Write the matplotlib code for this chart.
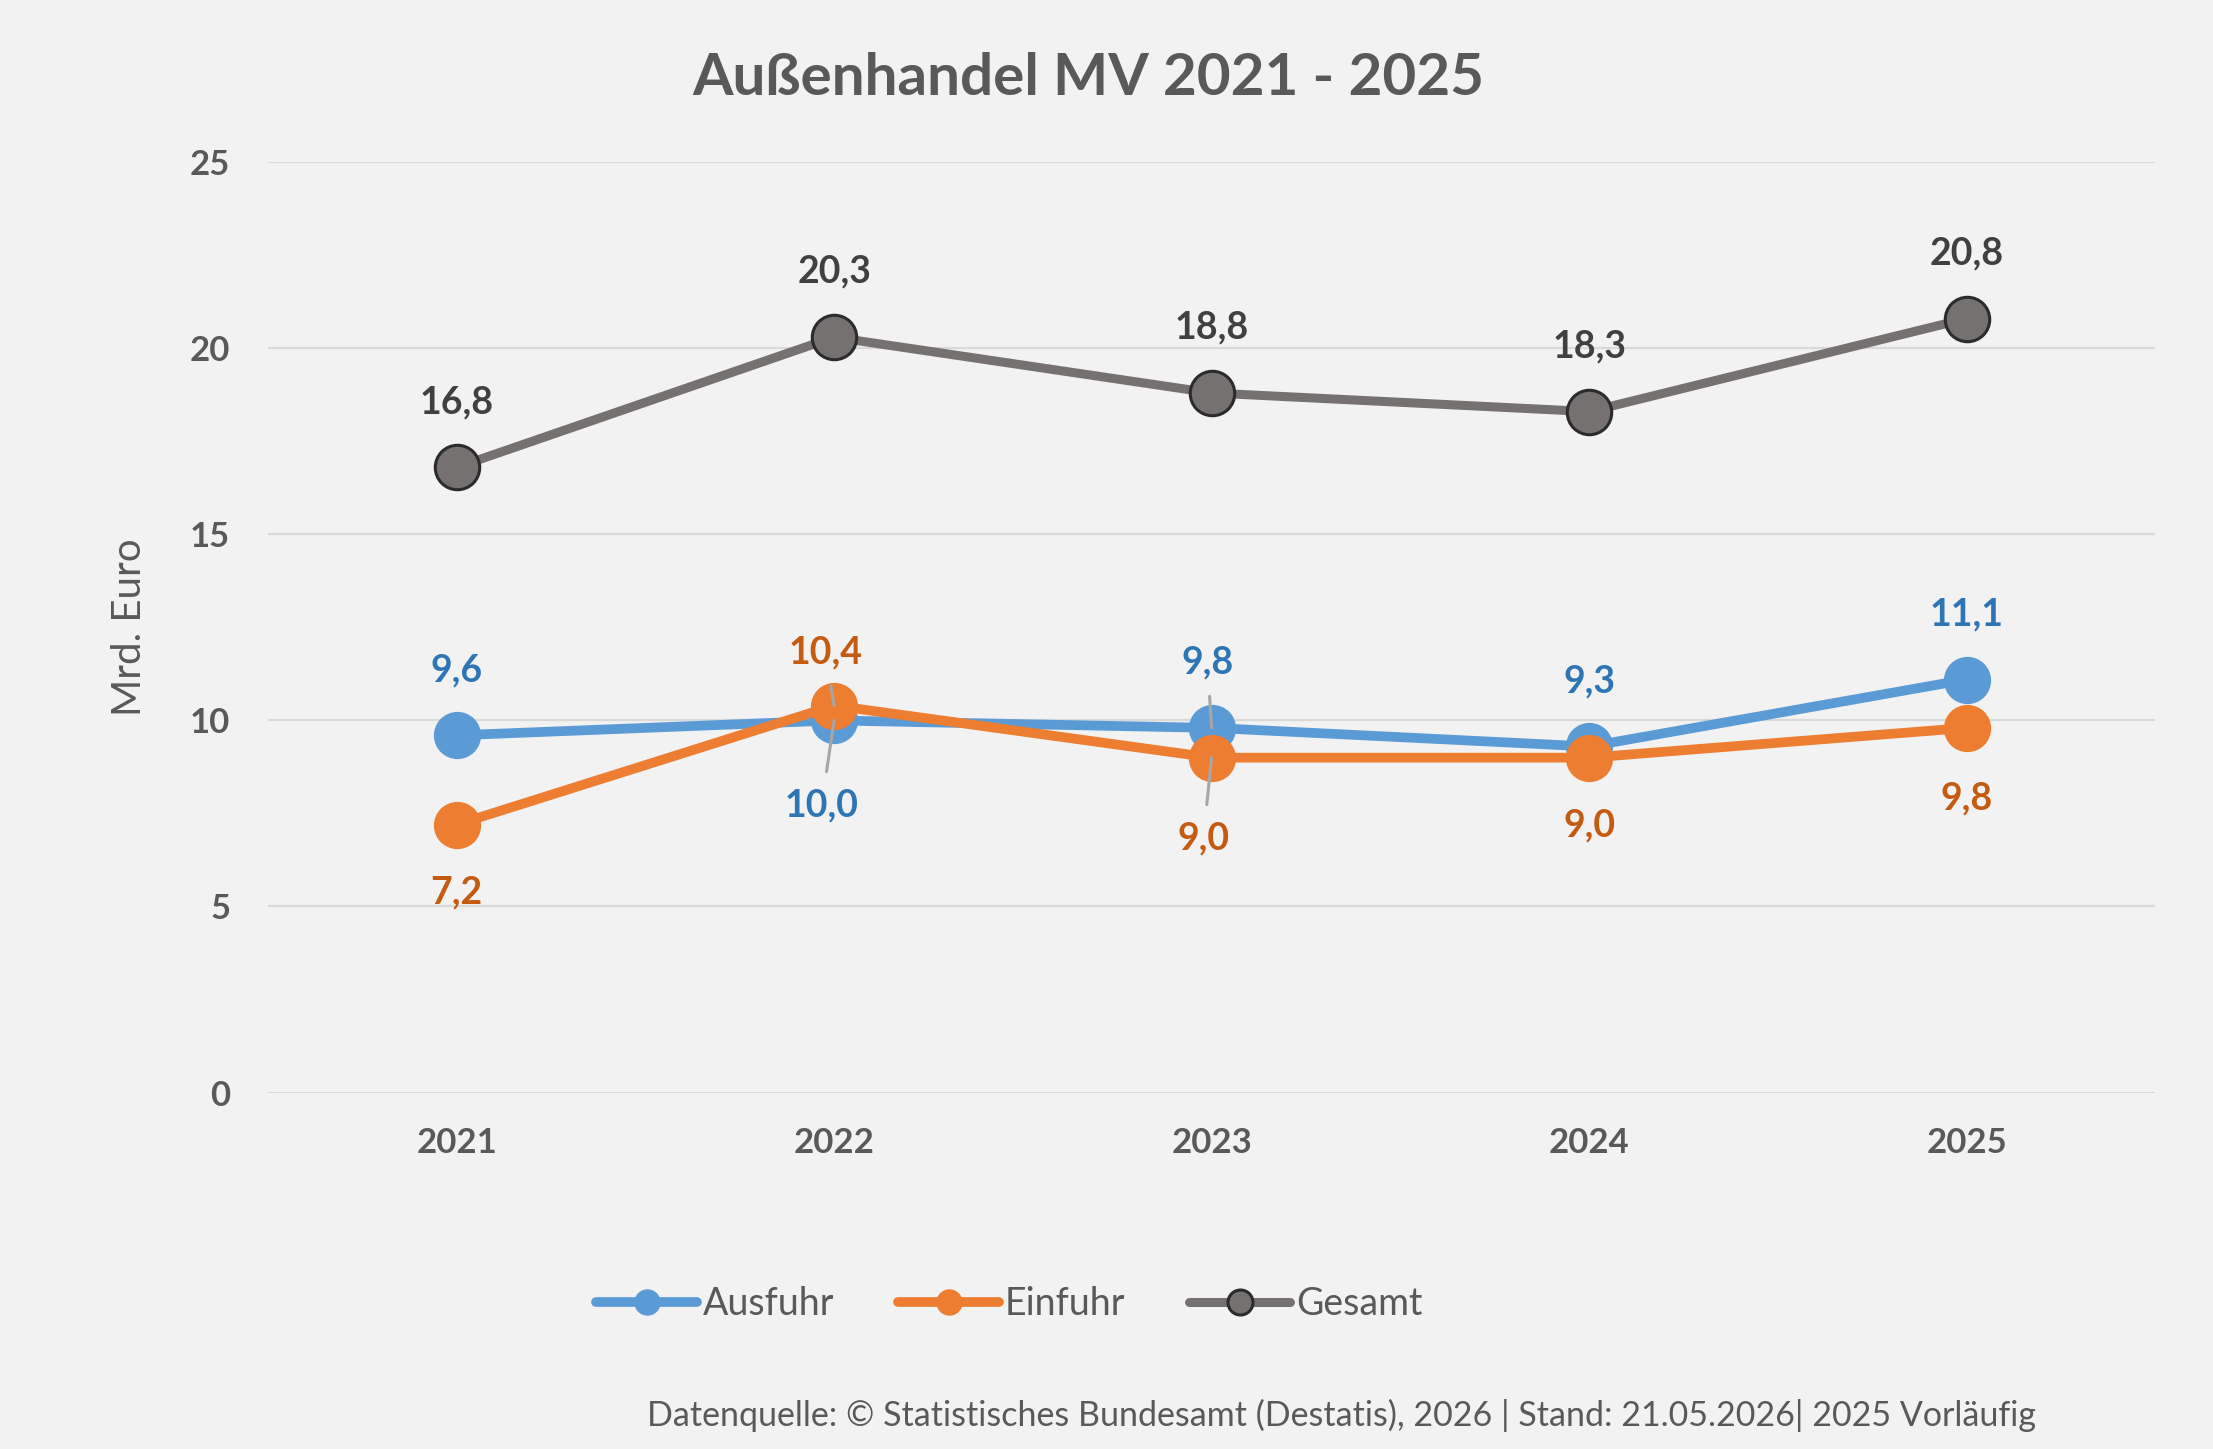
import matplotlib
matplotlib.use('Agg')
import matplotlib.pyplot as plt

# data
years = ["2021", "2022", "2023", "2024", "2025"]
ausfuhr = [9.6, 10.0, 9.8, 9.3, 11.1]
einfuhr = [7.2, 10.4, 9.0, 9.0, 9.8]
gesamt = [16.8, 20.3, 18.8, 18.3, 20.8]

# label offsets in points (dx, dy) and whether a leader line is drawn
off_aus = [(0, 47), (-9, -61), (-3, 47), (0, 47), (0, 47)]
off_ein = [(0, -49), (-6, 38), (-6, -58), (0, -49), (0, -51)]
off_ges = [(0, 47)] * 5
lead_aus = [False, True, True, False, False]
lead_ein = [False, True, True, False, False]

plt.rcParams['font.family'] = ['Lato', 'DejaVu Sans']

bg = "#F2F2F2"
fig = plt.figure(figsize=(22.13, 14.49), dpi=100, facecolor=bg)
ax = fig.add_axes([0.121, 0.246, 0.853, 0.642], facecolor=bg)

x = list(range(len(years)))
ax.plot(x, ausfuhr, color="#5B9BD5", lw=7, marker="o", ms=33, mfc="#5B9BD5",
        mec="#5B9BD5", label="Ausfuhr", zorder=3, solid_capstyle="round")
ax.plot(x, einfuhr, color="#ED7D31", lw=7, marker="o", ms=33, mfc="#ED7D31",
        mec="#ED7D31", label="Einfuhr", zorder=4, solid_capstyle="round")
ax.plot(x, gesamt, color="#767171", lw=6.5, marker="o", ms=32, mfc="#767171",
        mec="#2B2B2B", mew=2.2, label="Gesamt", zorder=5, solid_capstyle="round")

def labels(vals, offs, leads, col):
    for i, v in enumerate(vals):
        ap = None
        if leads[i]:
            ap = dict(arrowstyle="-", color="#A6A6A6", lw=2.2, shrinkA=10, shrinkB=0)
        ax.annotate(f"{v:.1f}".replace(".", ","), xy=(i, v), xytext=offs[i],
                    textcoords="offset points", ha="center", va="center",
                    fontsize=27, fontweight="bold", color=col,
                    arrowprops=ap, zorder=10)

labels(ausfuhr, off_aus, lead_aus, "#2E75B6")
labels(einfuhr, off_ein, lead_ein, "#C55A11")
labels(gesamt, off_ges, [False] * 5, "#404040")

ax.set_xlim(-0.5, 4.5)
ax.set_ylim(0, 25)
ax.set_yticks([0, 5, 10, 15, 20, 25])
ax.set_xticks(x)
ax.set_xticklabels(years)
ax.grid(axis="y", color="#D9D9D9", lw=1.6)
ax.set_axisbelow(True)
for s in ax.spines.values():
    s.set_visible(False)
ax.tick_params(axis="both", length=0, labelsize=25, labelcolor="#595959")
ax.tick_params(axis="y", pad=27)
ax.tick_params(axis="x", pad=25)
for t in ax.get_xticklabels() + ax.get_yticklabels():
    t.set_fontweight("bold")

ax.set_ylabel("Mrd. Euro", fontsize=29, color="#595959")
ax.yaxis.set_label_coords(-0.0636, 0.5)

fig.text(0.492, 0.946, "Außenhandel MV 2021 - 2025", ha="center", va="center",
         fontsize=42, fontweight="bold", color="#595959")

leg = fig.legend(loc="center", bbox_to_anchor=(0.456, 0.100), ncol=3, frameon=False,
                 fontsize=27, handlelength=2.7, handletextpad=0.15, columnspacing=1.7)
for h in leg.legend_handles:
    h.set_markersize(18)
for t in leg.get_texts():
    t.set_color("#595959")

fig.text(0.92, 0.023, "Datenquelle: © Statistisches Bundesamt (Destatis), 2026 | Stand: 21.05.2026| 2025 Vorläufig",
         ha="right", va="center", fontsize=24.5, color="#595959")

fig.savefig("out.png", dpi=100, facecolor=bg)
